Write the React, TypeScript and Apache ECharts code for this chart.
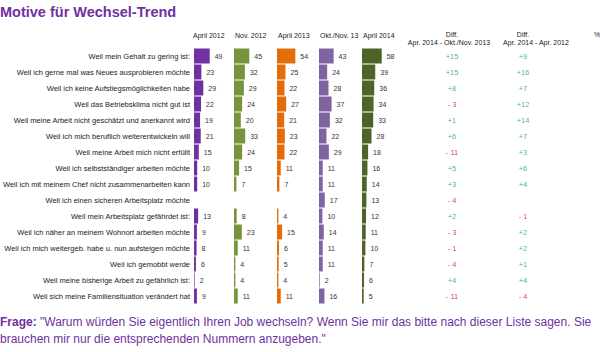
import React, { useEffect, useRef } from 'react';
import * as echarts from 'echarts';

const categories = [
  'Weil mein Gehalt zu gering ist:',
  'Weil ich gerne mal was Neues ausprobieren möchte',
  'Weil ich keine Aufstiegsmöglichkeiten habe',
  'Weil das Betriebsklima nicht gut ist',
  'Weil meine Arbeit nicht geschätzt und anerkannt wird',
  'Weil ich mich beruflich weiterentwickeln will',
  'Weil meine Arbeit mich nicht erfüllt',
  'Weil ich selbstständiger arbeiten möchte',
  'Weil ich mit meinem Chef nicht zusammenarbeiten kann',
  'Weil ich einen sicheren Arbeitsplatz möchte',
  'Weil mein Arbeitsplatz gefährdet ist:',
  'Weil ich näher an meinem Wohnort arbeiten möchte',
  'Weil ich mich weitergeb. habe u. nun aufsteigen möchte',
  'Weil ich gemobbt werde',
  'Weil meine bisherige Arbeit zu gefährlich ist:',
  'Weil sich meine Familiensituation verändert hat',
];

const periods = ['April 2012', 'Nov. 2012', 'April 2013', 'Okt./Nov. 13', 'April 2014'];

const april2012 = [49, 23, 29, 22, 19, 21, 15, 10, 10, null, 13, 9, 8, 6, 2, 9];
const nov2012 = [45, 32, 29, 24, 20, 33, 24, 15, 7, null, 8, 23, 11, 4, 4, 11];
const april2013 = [54, 25, 22, 27, 21, 23, 22, 11, 7, null, 4, 15, 6, 5, 4, 11];
const oktNov2013 = [43, 24, 28, 37, 32, 22, 29, 11, 11, 17, 10, 14, 11, 11, 2, 16];
const april2014 = [58, 39, 36, 34, 33, 28, 18, 16, 14, 13, 12, 11, 10, 7, 6, 5];

const diffOktNov2013 = [15, 15, 8, -3, 1, 6, -11, 5, 3, -4, 2, -3, -1, -4, 4, -11];
const diffApr2012 = [9, 16, 7, 12, 14, 7, 3, 6, 4, null, -1, 2, 2, 1, 4, -4];

const diffHeaders = ['Apr. 2014 - Okt./Nov. 2013', 'Apr. 2014 - Apr. 2012'];

const seriesValues = [april2012, nov2012, april2013, oktNov2013, april2014];
const colors = ['#7030a0', '#77933c', '#e46c0a', '#8064a2', '#4f6228'];
const colLeft = [192, 234, 277, 319, 362];
const FONT = '"Liberation Sans", Arial, sans-serif';
const PURPLE = '#7030a0';
const GREEN = '#2f9e5e';
const RED = '#c8102e';

const GRID_TOP = 48;
const GRID_H = 256;

export default function App() {
  const ref = useRef<HTMLDivElement>(null);
  useEffect(() => {
    if (!ref.current) return;
    const chart = echarts.init(ref.current, undefined, { renderer: 'svg' });
    const grids: any[] = [];
    const xAxes: any[] = [];
    const yAxes: any[] = [];
    const series: any[] = [];

    seriesValues.forEach((vals, k) => {
      grids.push({ left: colLeft[k], top: GRID_TOP, width: 34, height: GRID_H });
      xAxes.push({ type: 'value', gridIndex: k, min: 0, max: 100, show: false });
      yAxes.push({
        type: 'category',
        gridIndex: k,
        data: categories,
        inverse: true,
        show: k === 0,
        axisLine: { show: false },
        axisTick: { show: false },
        splitLine: { show: false },
        axisLabel: { show: k === 0, fontSize: 7.5, color: '#222', margin: 4, fontFamily: FONT },
      });
      series.push({
        type: 'bar',
        name: periods[k],
        xAxisIndex: k,
        yAxisIndex: k,
        data: vals,
        barWidth: 15,
        itemStyle: { color: colors[k] },
        label: {
          show: true,
          position: 'right',
          distance: 5,
          fontSize: 7,
          color: '#333',
          fontFamily: FONT,
        },
      });
    });

    const diffSets = [diffOktNov2013, diffApr2012];
    const diffLeft = [432, 503];
    diffSets.forEach((vals, j) => {
      const gi = 5 + j;
      grids.push({ left: diffLeft[j], top: GRID_TOP, width: 40, height: GRID_H });
      xAxes.push({ type: 'value', gridIndex: gi, min: -1, max: 1, show: false });
      yAxes.push({ type: 'category', gridIndex: gi, data: categories, inverse: true, show: false });
      series.push({
        type: 'scatter',
        xAxisIndex: gi,
        yAxisIndex: gi,
        symbolSize: 2,
        itemStyle: { color: 'rgba(255,255,255,0)' },
        data: vals.map((v, i) =>
          v == null
            ? null
            : {
                value: [0, i],
                label: { color: v >= 0 ? GREEN : RED },
              }
        ),
        label: {
          show: true,
          position: 'inside',
          fontSize: 7.5,
          fontFamily: FONT,
          formatter: (p: any) => {
            const v = vals[p.dataIndex] as number;
            return v >= 0 ? '+' + v : '- ' + Math.abs(v);
          },
        },
      });
    });

    const headerTexts: any[] = periods.map((p, k) => ({
      type: 'text',
      x: colLeft[k] + 1,
      y: 35,
      style: { text: p, fontSize: 7, fontFamily: FONT, fill: '#222', align: 'left', verticalAlign: 'middle' },
    }));

    const diffCenters = [[452, 449], [523, 536]];
    diffHeaders.forEach((h, j) => {
      headerTexts.push({
        type: 'text',
        x: diffCenters[j][0],
        y: 34,
        style: { text: 'Diff.', fontSize: 7, fontFamily: FONT, fill: '#222', align: 'center', verticalAlign: 'middle' },
      });
      headerTexts.push({
        type: 'text',
        x: diffCenters[j][1],
        y: 42,
        style: { text: h, fontSize: 7, fontFamily: FONT, fill: '#222', align: 'center', verticalAlign: 'middle' },
      });
    });
    headerTexts.push({
      type: 'text',
      x: 597,
      y: 34,
      style: { text: '%', fontSize: 7, fontFamily: FONT, fill: '#222', align: 'center', verticalAlign: 'middle' },
    });

    const option: any = {
      animation: false,
      backgroundColor: '#fff',
      title: {
        text: 'Motive für Wechsel-Trend',
        left: 0,
        top: 4,
        padding: 0,
        textStyle: { fontSize: 14.5, fontWeight: 'bold', color: PURPLE, fontFamily: FONT },
      },
      grid: grids,
      xAxis: xAxes,
      yAxis: yAxes,
      series,
      graphic: [
        ...headerTexts,
        {
          type: 'text',
          x: 0,
          y: 322,
          style: {
            text: '{b|Frage:} "Warum würden Sie eigentlich Ihren Job wechseln? Wenn Sie mir das bitte nach dieser Liste sagen. Sie',
            fontSize: 12,
            fontFamily: FONT,
            fill: PURPLE,
            verticalAlign: 'middle',
            rich: { b: { fontWeight: 'bold', fontSize: 12, fontFamily: FONT, fill: PURPLE } },
          },
        },
        {
          type: 'text',
          x: 0,
          y: 339,
          style: {
            text: 'brauchen mir nur die entsprechenden Nummern anzugeben."',
            fontSize: 12,
            fontFamily: FONT,
            fill: PURPLE,
            verticalAlign: 'middle',
          },
        },
      ],
    };
    chart.setOption(option);
    return () => chart.dispose();
  }, []);
  return <div ref={ref} style={{ position: 'fixed', left: 0, top: 0, width: 600, height: 352 }} />;
}
